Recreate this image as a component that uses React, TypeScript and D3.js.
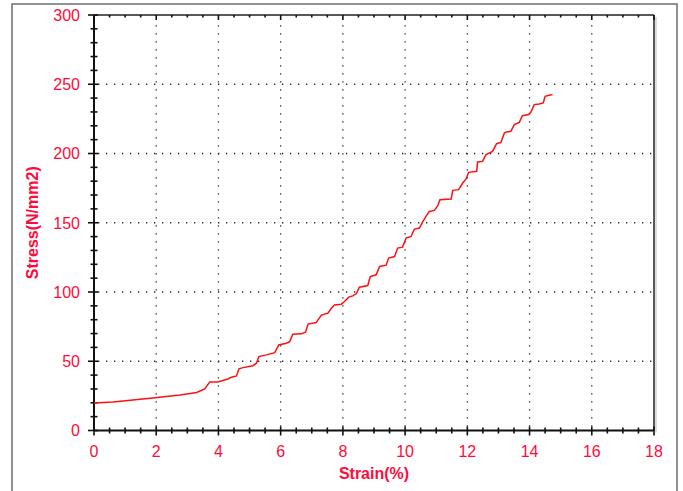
import * as d3 from 'd3';

// strain (%) / stress (N/mm2)
const strain = [
    0, 0.61, 1.89, 2.76, 3.3, 3.56, 3.72, 3.98, 4.3, 4.42, 4.58, 4.66, 4.79, 5.11, 5.22, 5.3, 5.54, 5.81, 5.94,
    6.18, 6.29, 6.39, 6.66, 6.8, 6.88, 7.14, 7.31, 7.52, 7.63, 7.73, 7.95, 8.05, 8.19, 8.32, 8.43, 8.53, 8.8,
    8.88, 9.07, 9.18, 9.39, 9.47, 9.66, 9.76, 9.92, 10.03, 10.19, 10.3, 10.46, 10.56, 10.67, 10.78, 10.94,
    11.05, 11.12, 11.48, 11.53, 11.72, 11.85, 11.96, 12.04, 12.3, 12.33, 12.49, 12.6, 12.81, 12.94, 13.08,
    13.19, 13.26, 13.4, 13.51, 13.67, 13.77, 13.97, 14.04, 14.15, 14.31, 14.44, 14.5, 14.63, 14.74,
];
const stress = [
    19.9, 20.6, 23.5, 25.7, 27.5, 30.0, 35.1, 35.1, 37.2, 38.5, 39.4, 44.5, 45.4, 46.8, 48.6, 53.4, 54.6, 56.2,
    61.8, 63.0, 64.2, 69.5, 69.8, 71.0, 76.8, 77.9, 83.3, 84.7, 88.3, 90.7, 91.2, 93.1, 96.3, 97.2, 98.7,
    103.5, 104.7, 111.2, 112.4, 118.4, 119.4, 124.5, 125.6, 131.7, 132.4, 138.9, 140.1, 145.4, 146.2, 150.5,
    154.6, 158.2, 158.9, 162.3, 166.6, 167.1, 173.4, 173.9, 178.7, 181.6, 186.4, 187.1, 193.9, 194.3, 199.2,
    201.5, 207.1, 208.0, 214.8, 215.6, 216.0, 220.8, 222.5, 227.3, 228.1, 229.7, 235.3, 235.8, 236.5, 241.3,
    242.0, 242.5,
];

const xTicks = [0, 2, 4, 6, 8, 10, 12, 14, 16, 18];
const yTicks = [0, 50, 100, 150, 200, 250, 300];
const xMinor = d3.range(0, 18.01, 0.5);
const yMinor = d3.range(0, 300.1, 10);

const W = 683;
const H = 491;
const left = 94;
const right = 654;
const top = 15;
const bottom = 430.5;
const labelColor = '#ff0a3c';
const font = '"Liberation Sans", Arial, sans-serif';

export default function App() {
    const x = d3.scaleLinear().domain([0, 18]).range([left, right]);
    const y = d3.scaleLinear().domain([0, 300]).range([bottom, top]);

    const line = d3
        .line<number>()
        .x((_, i) => x(strain[i]))
        .y(d => y(d));

    return (
        <svg width={W} height={H} style={{ position: 'absolute', left: 0, top: 0, background: '#fff' }}>
            {/* outer frame */}
            <rect x={12} y={4} width={665} height={500} fill="#fff" stroke="#6e6e6e" strokeWidth={1.5} />

            {/* grid */}
            <g stroke="#222" strokeWidth={1.3} strokeDasharray="1.3 6.7">
                {xTicks.slice(1, -1).map(t => (
                    <line key={'gx' + t} x1={x(t)} x2={x(t)} y1={bottom - 4} y2={top + 4} />
                ))}
                {yTicks.slice(1, -1).map(t => (
                    <line key={'gy' + t} x1={left + 4} x2={right - 2} y1={y(t)} y2={y(t)} />
                ))}
            </g>

            {/* plot frame */}
            <line x1={right + 2} x2={right + 2} y1={top + 2} y2={bottom + 2} stroke="#bbb" strokeWidth={1} />
            <line x1={left} x2={right} y1={top} y2={top} stroke="#222" strokeWidth={1.5} />
            <line x1={right} x2={right} y1={top} y2={bottom} stroke="#222" strokeWidth={1.5} />
            <line x1={left} x2={right} y1={bottom} y2={bottom} stroke="#111" strokeWidth={2} />
            <line x1={left} x2={left} y1={top} y2={bottom} stroke="#111" strokeWidth={2} />

            {/* ticks */}
            <g stroke="#111" strokeWidth={1.6}>
                {xMinor.map(t => {
                    const major = Math.abs(t % 2) < 1e-6;
                    return (
                        <g key={'tx' + t}>
                            <line x1={x(t)} x2={x(t)} y1={bottom - (major ? 4 : 3)} y2={bottom + (major ? 5 : 3)} />
                            <line x1={x(t)} x2={x(t)} y1={top} y2={top + (major ? 5 : 2.5)} />
                        </g>
                    );
                })}
                {yMinor.map(t => {
                    const major = Math.abs(t % 50) < 1e-6;
                    return (
                        <line
                            key={'ty' + t}
                            x1={left - (major ? 6 : 3.5)}
                            x2={left + (major ? 4 : 3.5)}
                            y1={y(t)}
                            y2={y(t)}
                        />
                    );
                })}
            </g>

            {/* curve */}
            <path d={line(stress) ?? ''} fill="none" stroke="#ff1010" strokeWidth={1.5} />

            {/* tick labels */}
            <g fill={labelColor} fontFamily={font} fontSize={16}>
                {xTicks.map(t => (
                    <text key={'lx' + t} x={x(t)} y={456.5} textAnchor="middle">
                        {t}
                    </text>
                ))}
                {yTicks.map(t => (
                    <text key={'ly' + t} x={80} y={y(t)} dy="0.36em" textAnchor="end">
                        {t}
                    </text>
                ))}
            </g>

            {/* axis titles */}
            <text
                x={(left + right) / 2}
                y={479}
                textAnchor="middle"
                fill={labelColor}
                fontFamily={font}
                fontSize={16}
                fontWeight="bold"
            >
                Strain(%)
            </text>
            <text
                transform={`translate(38,${(top + bottom) / 2}) rotate(-90)`}
                textAnchor="middle"
                fill={labelColor}
                fontFamily={font}
                fontSize={16}
                fontWeight="bold"
            >
                Stress(N/mm2)
            </text>
        </svg>
    );
}
